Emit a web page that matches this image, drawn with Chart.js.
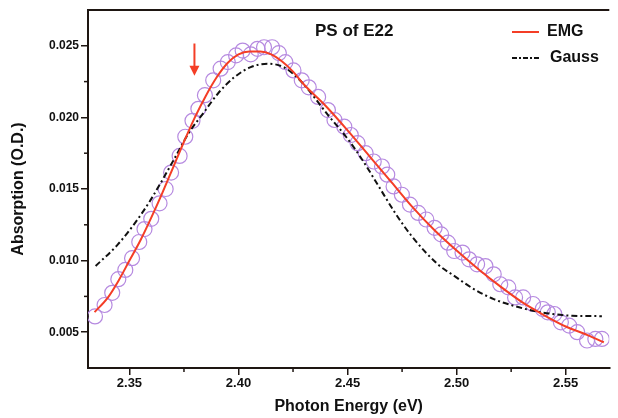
<!DOCTYPE html>
<html>
<head>
<meta charset="utf-8">
<script src="https://cdn.jsdelivr.net/npm/chart.js@4/dist/chart.umd.min.js"></script>
<style>
  html, body { margin: 0; padding: 0; background: #fff; }
  #wrap { width: 618px; height: 418px; }
</style>
</head>
<body>
<div id="wrap"><canvas id="chart" width="618" height="418"></canvas></div>
<script>
//----------------------------------donnees

// points mesures (cercles)
const dataEnergy = [2.3342, 2.3386, 2.3421, 2.3449, 2.3481, 2.3512, 2.3545, 2.3569, 2.3600, 2.3638,
  2.3666, 2.3691, 2.3730, 2.3756, 2.3789, 2.3816, 2.3846, 2.3884, 2.3918, 2.3951,
  2.3989, 2.4019, 2.4056, 2.4087, 2.4117, 2.4154, 2.4185, 2.4215, 2.4252, 2.4290,
  2.4322, 2.4365, 2.4410, 2.4440, 2.4485, 2.4515, 2.4546, 2.4583, 2.4620, 2.4658,
  2.4682, 2.4711, 2.4749, 2.4786, 2.4824, 2.4861, 2.4899, 2.4929, 2.4960, 2.4989,
  2.5027, 2.5057, 2.5094, 2.5132, 2.5170, 2.5200, 2.5237, 2.5268, 2.5305, 2.5350,
  2.5395, 2.5418, 2.5448, 2.5478, 2.5516, 2.5553, 2.5598, 2.5636, 2.5666]
const dataAbs = [0.00610, 0.00690, 0.00775, 0.00870, 0.00935, 0.01017, 0.01130, 0.01220, 0.01292, 0.01400,
  0.01500, 0.01615, 0.01731, 0.01865, 0.01976, 0.02060, 0.02155, 0.02259, 0.02340, 0.02386,
  0.02433, 0.02467, 0.02440, 0.02479, 0.02490, 0.02490, 0.02449, 0.02386, 0.02328, 0.02259,
  0.02210, 0.02143, 0.02051, 0.01982, 0.01935, 0.01877, 0.01820, 0.01750, 0.01692, 0.01657,
  0.01600, 0.01518, 0.01460, 0.01391, 0.01333, 0.01287, 0.01229, 0.01183, 0.01125, 0.01067,
  0.01056, 0.01009, 0.00974, 0.00962, 0.00904, 0.00835, 0.00813, 0.00743, 0.00743, 0.00697,
  0.00662, 0.00639, 0.00627, 0.00569, 0.00546, 0.00500, 0.00442, 0.00453, 0.00453]

// ajustement EMG (ligne rouge)
const emgEnergy = [2.334, 2.340, 2.345, 2.350, 2.355, 2.360, 2.365, 2.370, 2.375, 2.380,
  2.385, 2.390, 2.395, 2.400, 2.405, 2.410, 2.415, 2.420, 2.425, 2.430,
  2.440, 2.450, 2.460, 2.470, 2.480, 2.490, 2.500, 2.510, 2.520, 2.530,
  2.540, 2.550, 2.560, 2.5675]
const emgAbs = [0.0064, 0.0074, 0.0086, 0.0100, 0.0114, 0.0130, 0.0147, 0.0165, 0.0183, 0.0200,
  0.0215, 0.0228, 0.0238, 0.0244, 0.0246, 0.0246, 0.0244, 0.0239, 0.0232, 0.0223,
  0.0208, 0.0191, 0.0173, 0.0155, 0.0137, 0.0121, 0.0107, 0.0094, 0.0082, 0.0071,
  0.0062, 0.0054, 0.0048, 0.0043]

// ajustement gaussien (tirets-points noirs)
const gaussEnergy = [2.3345, 2.3447, 2.3537, 2.3598, 2.3703, 2.3771, 2.3838, 2.3906, 2.3982, 2.4056,
  2.4132, 2.4207, 2.4282, 2.4417, 2.4493, 2.4568, 2.4643, 2.4718, 2.4794, 2.4914,
  2.4989, 2.5079, 2.5170, 2.5260, 2.5350, 2.5440, 2.5530, 2.5666]
const gaussAbs = [0.00962, 0.01113, 0.01287, 0.01426, 0.01703, 0.01889, 0.02028, 0.02167, 0.02282, 0.02351,
  0.02375, 0.02351, 0.02259, 0.02004, 0.01865, 0.01703, 0.01518, 0.01333, 0.01171, 0.00974,
  0.00893, 0.00801, 0.00731, 0.00685, 0.00650, 0.00627, 0.00615, 0.00612]

// fleche rouge (position en unites des donnees)
const arrowX = 2.3798
const arrowTop = 0.02516
const arrowTip = 0.0229

const fitLabels = ['EMG', 'Gauss']
const titleText = 'PS of E22'

//----------------------------------couleurs
const red = 'rgb(244, 62, 38)'
const purple = 'rgb(182, 138, 224)'
const axisColor = '#1e1612'
const font = 'Liberation Sans, Arial, sans-serif'

function toPoints(xs, ys) {
  return xs.map((x, i) => ({ x: x, y: ys[i] }))
}

function isMajor(v, step) {
  return Math.abs(v / step - Math.round(v / step)) < 1e-6
}

//----------------------------------plugin : cadre, petites graduations, fleche, legende
const decorPlugin = {
  id: 'decor',
  afterDraw(chart) {
    const ctx = chart.ctx
    const area = chart.chartArea
    const xs = chart.scales.x
    const ys = chart.scales.y
    ctx.save()

    // ligne du haut
    ctx.strokeStyle = axisColor
    ctx.lineWidth = 2
    ctx.beginPath()
    ctx.moveTo(area.left - 1, area.top)
    ctx.lineTo(area.right, area.top)
    ctx.stroke()

    // petites graduations
    ctx.lineWidth = 1.5
    xs.ticks.forEach(t => {
      if (!isMajor(t.value, 0.05)) {
        const px = xs.getPixelForValue(t.value)
        ctx.beginPath()
        ctx.moveTo(px, area.bottom)
        ctx.lineTo(px, area.bottom + 4)
        ctx.stroke()
      }
    })
    ys.ticks.forEach(t => {
      if (!isMajor(t.value, 0.005) && t.value > ys.min + 1e-6 && t.value < ys.max - 1e-6) {
        const py = ys.getPixelForValue(t.value)
        ctx.beginPath()
        ctx.moveTo(area.left, py)
        ctx.lineTo(area.left - 4, py)
        ctx.stroke()
      }
    })

    // fleche
    const ax = xs.getPixelForValue(arrowX)
    const at = ys.getPixelForValue(arrowTop)
    const ab = ys.getPixelForValue(arrowTip)
    ctx.strokeStyle = red
    ctx.fillStyle = red
    ctx.lineWidth = 2
    ctx.beginPath()
    ctx.moveTo(ax, at)
    ctx.lineTo(ax, ab - 9)
    ctx.stroke()
    ctx.beginPath()
    ctx.moveTo(ax - 5, ab - 10)
    ctx.lineTo(ax + 5, ab - 10)
    ctx.lineTo(ax, ab)
    ctx.closePath()
    ctx.fill()

    // titre dans le graphe
    ctx.fillStyle = '#111'
    ctx.font = 'bold 17px ' + font
    ctx.textBaseline = 'middle'
    ctx.textAlign = 'left'
    ctx.fillText(titleText, 315, 31)

    // legende
    ctx.font = 'bold 16px ' + font
    const rows = [
      { label: fitLabels[0], color: red, dash: [] },
      { label: fitLabels[1], color: '#111', dash: [5, 2, 2, 2] }
    ]
    rows.forEach((r, i) => {
      const y = 32 + i * 26
      ctx.strokeStyle = r.color
      ctx.lineWidth = 2
      ctx.setLineDash(r.dash)
      ctx.beginPath()
      ctx.moveTo(512, y)
      ctx.lineTo(539, y)
      ctx.stroke()
      ctx.setLineDash([])
      ctx.fillStyle = '#111'
      ctx.fillText(r.label, i == 0 ? 547 : 550, y)
    })

    ctx.restore()
  }
}

//----------------------------------graphe
const canvas = document.getElementById('chart')

new Chart(canvas, {
  type: 'scatter',
  data: {
    datasets: [
      {
        label: fitLabels[0],
        data: toPoints(emgEnergy, emgAbs),
        showLine: true,
        borderColor: red,
        borderWidth: 2,
        pointRadius: 0,
        cubicInterpolationMode: 'monotone',
        order: 1
      },
      {
        label: fitLabels[1],
        data: toPoints(gaussEnergy, gaussAbs),
        showLine: true,
        borderColor: '#111',
        borderWidth: 2,
        borderDash: [6, 3, 2, 3],
        pointRadius: 0,
        cubicInterpolationMode: 'monotone',
        order: 2
      },
      {
        label: 'data',
        data: toPoints(dataEnergy, dataAbs),
        showLine: false,
        pointRadius: 7.5,
        pointBorderWidth: 1.2,
        pointBorderColor: purple,
        pointBackgroundColor: 'rgba(0,0,0,0)',
        order: 3
      }
    ]
  },
  options: {
    responsive: false,
    animation: false,
    layout: { padding: { top: 10, right: 0, left: 0, bottom: 0 } },
    plugins: {
      legend: { display: false },
      tooltip: { enabled: false }
    },
    scales: {
      x: {
        type: 'linear',
        min: 2.331,
        max: 2.570,
        afterFit(scale) { scale.height = 50 },
        ticks: {
          stepSize: 0.025,
          includeBounds: false,
          maxRotation: 0,
          autoSkip: false,
          padding: 1,
          color: '#111',
          font: { family: font, size: 13, weight: 'bold' },
          callback: v => isMajor(v, 0.05) ? v.toFixed(2) : ''
        },
        grid: {
          drawOnChartArea: false,
          drawTicks: true,
          tickLength: 7,
          lineWidth: 1.5,
          color: c => (c.tick && isMajor(c.tick.value, 0.05)) ? axisColor : 'rgba(0,0,0,0)'
        },
        border: { display: true, color: axisColor, width: 2 },
        title: {
          display: true,
          text: 'Photon Energy (eV)',
          color: '#111',
          padding: { top: 0, bottom: 2 },
          font: { family: font, size: 16, weight: 'bold' }
        }
      },
      y: {
        type: 'linear',
        min: 0.0025,
        max: 0.0275,
        afterFit(scale) { scale.width = 88 },
        ticks: {
          stepSize: 0.0025,
          includeBounds: false,
          autoSkip: false,
          padding: 2,
          color: '#111',
          font: { family: font, size: 12, weight: 'bold' },
          callback: v => isMajor(v, 0.005) ? v.toFixed(3) : ''
        },
        grid: {
          drawOnChartArea: false,
          drawTicks: true,
          tickLength: 7,
          lineWidth: 1.5,
          color: c => (c.tick && isMajor(c.tick.value, 0.005)) ? axisColor : 'rgba(0,0,0,0)'
        },
        border: { display: true, color: axisColor, width: 2 },
        title: {
          display: true,
          text: 'Absorption (O.D.)',
          color: '#111',
          padding: { top: 9, bottom: 0 },
          font: { family: font, size: 16, weight: 'bold' }
        }
      }
    }
  },
  plugins: [decorPlugin]
});
</script>
</body>
</html>
